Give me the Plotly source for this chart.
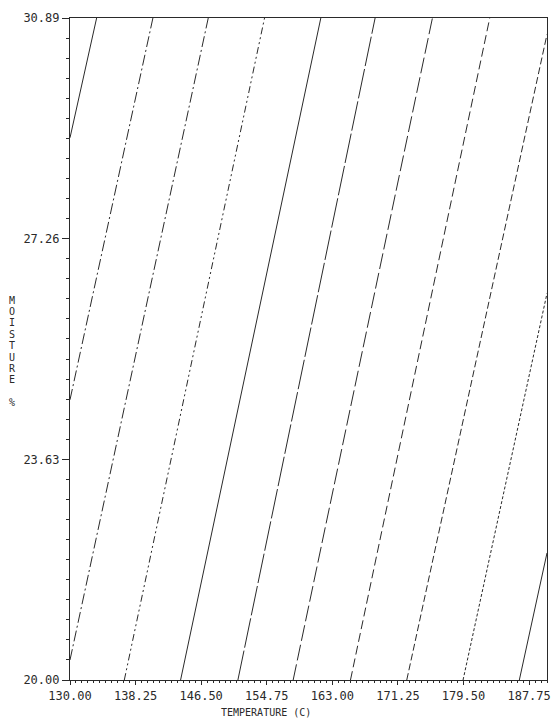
import plotly.graph_objects as go

# Constant-value contour lines of the drying surface, each a straight segment
# from where it enters the frame to where it leaves it (temperature in C, moisture in %)
contour_temp_start = [130.00, 130.00, 130.00, 136.83, 143.91, 151.12, 158.07, 165.28, 172.36, 179.44, 186.52]
contour_moist_start = [28.92, 24.61, 20.33, 20.00, 20.00, 20.00, 20.00, 20.00, 20.00, 20.00, 20.00]
contour_temp_end = [133.35, 140.43, 147.39, 154.47, 161.55, 168.38, 175.59, 182.80, 190.00, 190.00, 190.00]
contour_moist_end = [30.89, 30.89, 30.89, 30.89, 30.89, 30.89, 30.89, 30.89, 30.62, 26.36, 22.09]

# Pen pattern of each contour level
contour_dash = [
    "solid",
    "11px,3px,2px,3px",
    "11px,3px,2px,3px",
    "7px,3px,2px,3px,2px,3px",
    "solid",
    "30px,3px",
    "16px,4px",
    "9px,4px",
    "7px,3px",
    "3px,2px",
    "solid",
]

temp_ticks = [130.00, 138.25, 146.50, 154.75, 163.00, 171.25, 179.50, 187.75]
moist_ticks = [20.00, 23.63, 27.26, 30.89]

x_title = "TEMPERATURE (C)"
y_title_letters = list("MOISTURE") + ["", "%"]

FONT = "DejaVu Sans Mono"
INK = "#2a2a2a"

fig = go.Figure()
for t0, m0, t1, m1, dash in zip(contour_temp_start, contour_moist_start,
                                contour_temp_end, contour_moist_end, contour_dash):
    fig.add_trace(go.Scatter(
        x=[t0, t1], y=[m0, m1], mode="lines",
        line=dict(color=INK, width=1.0, dash=dash),
        showlegend=False, hoverinfo="skip",
    ))

fig.update_layout(
    width=556, height=721,
    margin=dict(l=70, r=5, t=18, b=41),
    paper_bgcolor="white", plot_bgcolor="white",
    font=dict(family=FONT, size=12, color=INK),
)

fig.update_xaxes(
    range=[130, 190],
    tickvals=temp_ticks,
    ticktext=[f"{v:.2f}" for v in temp_ticks],
    ticks="outside", ticklen=4, tickwidth=1, tickcolor=INK,
    minor=dict(dtick=0.75, tick0=130, ticks="outside", ticklen=2, tickcolor=INK),
    showline=True, linecolor=INK, linewidth=1.2, mirror=True,
    showgrid=False, zeroline=False,
    tickfont=dict(family=FONT, size=12, color=INK),
)
fig.update_yaxes(
    range=[20, 30.89],
    tickvals=moist_ticks,
    ticktext=[f"{v:.2f}" for v in moist_ticks],
    ticks="outside", ticklen=7, tickwidth=1, tickcolor=INK,
    minor=dict(dtick=0.33, tick0=20, ticks="outside", ticklen=3, tickcolor=INK),
    showline=True, linecolor=INK, linewidth=1.2, mirror=True,
    showgrid=False, zeroline=False,
    tickfont=dict(family=FONT, size=12, color=INK),
)

# Axis titles in plotter style: plain text below, stacked letters on the left
fig.add_annotation(
    text=x_title, xref="paper", yref="paper",
    x=0.41, y=0, yshift=-32, yanchor="middle", showarrow=False,
    font=dict(family=FONT, size=10, color=INK),
)
letter_step = 11.4
for i, ch in enumerate(y_title_letters):
    if not ch:
        continue
    fig.add_annotation(
        text=ch, xref="paper", yref="paper", x=0, xshift=-58,
        y=1, yshift=-282 - i * letter_step,
        xanchor="center", yanchor="middle", showarrow=False,
        font=dict(family=FONT, size=10, color=INK),
    )

fig.write_html("out.html")
